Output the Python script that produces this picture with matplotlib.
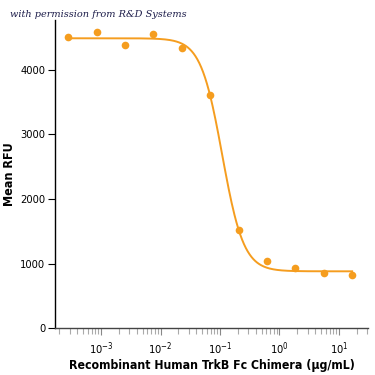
import numpy as np
import matplotlib
matplotlib.use("Agg")
import matplotlib.pyplot as plt
from matplotlib.ticker import LogLocator, NullFormatter

# data (3-fold dilution series)
conc = [0.000282, 0.000847, 0.00254, 0.00762, 0.0229, 0.0686, 0.206, 0.617, 1.85, 5.56, 16.7]
rfu = [4510, 4590, 4390, 4560, 4340, 3610, 1520, 1040, 930, 850, 820]

# 4-parameter logistic fit shown as the line
top, bottom, ec50, hill = 4490, 880, 0.109, 2.4

orange = "#f59d1f"
fam = "DejaVu Sans"

fig = plt.figure(figsize=(3.75, 3.75), dpi=100)
ax = fig.add_axes([0.147, 0.125, 0.834, 0.822])

xs = np.logspace(np.log10(conc[0]), np.log10(conc[-1]), 300)
fit = bottom + (top - bottom) / (1 + (xs / ec50) ** hill)
ax.plot(xs, fit, color=orange, lw=1.4)
ax.plot(conc, rfu, "o", color=orange, ms=5.5, mec="none")

ax.set_xscale("log")
ax.set_xlim(1.69e-4, 30.7)
ax.set_ylim(0, 4775)
ax.set_yticks([0, 1000, 2000, 3000, 4000])
ax.xaxis.set_major_locator(LogLocator(base=10, numticks=10))
ax.xaxis.set_minor_locator(LogLocator(base=10, subs=np.arange(2, 10), numticks=10))
ax.xaxis.set_minor_formatter(NullFormatter())

for s in ["top", "right"]:
    ax.spines[s].set_visible(False)
ax.spines["left"].set_linewidth(1.0)
ax.spines["bottom"].set_linewidth(1.0)
ax.spines["bottom"].set_color("#444444")

ax.tick_params(axis="y", length=5, width=0.8, labelsize=8, pad=2)
ax.tick_params(axis="x", which="major", length=5, width=0.8, labelsize=8, color="#888888")
ax.tick_params(axis="x", which="minor", length=4, width=0.8, color="#aaaaaa")
for lab in ax.get_xticklabels() + ax.get_yticklabels():
    lab.set_family(fam)
    lab.set_stretch("condensed")

ax.set_xlabel("Recombinant Human TrkB Fc Chimera (\u03bcg/mL)", family=fam, stretch="condensed",
              fontweight="bold", fontsize=8.8, labelpad=2)
ax.set_ylabel("Mean RFU", family=fam, stretch="condensed", fontweight="bold",
              fontsize=9, labelpad=3)

fig.text(0.027, 0.962, "with permission from R&D Systems", family="DejaVu Serif",
         style="italic", fontsize=7, color="#1d1d4a", va="center")

fig.savefig("out.png", dpi=100)
